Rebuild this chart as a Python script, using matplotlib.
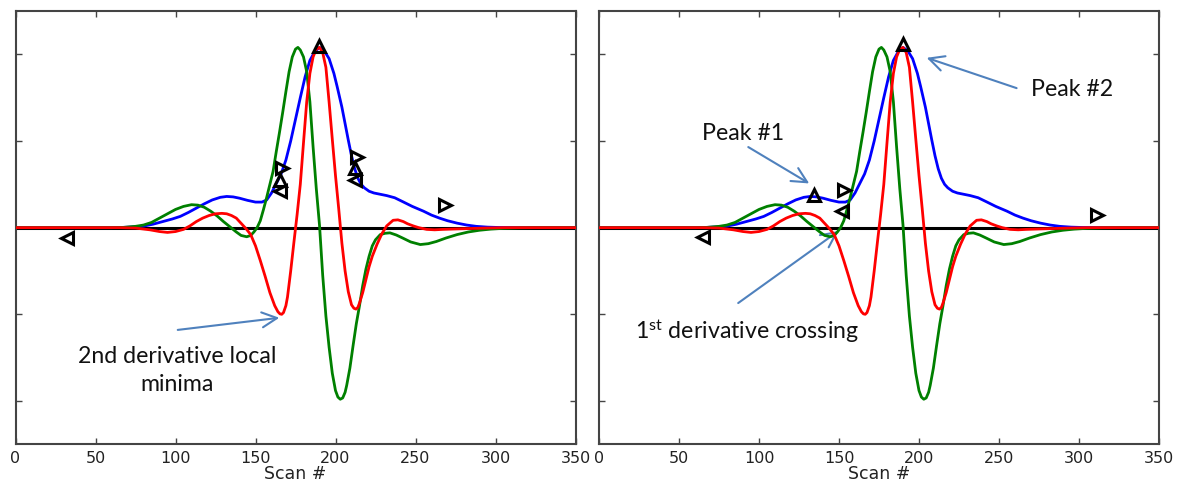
import matplotlib
matplotlib.use("Agg")
import matplotlib.pyplot as plt

# ---- data ----
blue_x = [0, 60, 67, 75, 80, 86, 92, 98, 103, 108, 113, 118, 123, 128, 132, 136, 140, 145, 150, 154,
          157, 160, 163, 166, 169, 172, 175, 178, 181, 184, 187, 190, 193, 196, 199, 201, 204, 206,
          208, 210, 212, 214, 216, 218, 221, 224, 228, 232, 237, 242, 248, 255, 260, 265, 270, 276,
          282, 288, 295, 302, 315, 350]
blue_y = [0, 0, 0.003, 0.01, 0.018, 0.04, 0.07, 0.10, 0.13, 0.175, 0.225, 0.275, 0.32, 0.35, 0.36,
          0.355, 0.34, 0.315, 0.295, 0.295, 0.32, 0.40, 0.51, 0.62, 0.78, 1.00, 1.25, 1.50, 1.74,
          1.93, 2.03, 2.08, 2.04, 1.95, 1.78, 1.63, 1.39, 1.20, 1.01, 0.83, 0.68, 0.57, 0.50, 0.46,
          0.42, 0.40, 0.385, 0.37, 0.345, 0.30, 0.245, 0.19, 0.145, 0.11, 0.08, 0.052, 0.03, 0.015,
          0.006, 0.002, 0, 0]

green_x = [0, 60, 67, 75, 80, 85, 90, 95, 100, 105, 110, 114, 118, 122, 126, 130, 134, 138, 141,
           144.5, 147, 149, 151, 153, 155, 157, 159, 161, 163, 165, 167, 169, 171, 173, 175, 176.5,
           178, 180, 182, 184, 186, 188, 190, 192, 194, 196, 198, 200, 201.5, 203, 204.5, 206, 207,
           209, 211, 213, 215, 217, 219, 221, 223, 225, 228, 231, 234, 238, 242, 247, 253, 258, 263,
           269, 276, 283, 290, 297, 305, 315, 325, 350]
green_y = [0, 0, 0.002, 0.015, 0.03, 0.06, 0.11, 0.16, 0.21, 0.245, 0.265, 0.26, 0.235, 0.19, 0.135,
           0.07, 0.01, -0.05, -0.09, -0.105, -0.09, -0.05, 0.0, 0.08, 0.21, 0.35, 0.50, 0.65, 0.88,
           1.10, 1.33, 1.57, 1.80, 1.97, 2.06, 2.08, 2.05, 1.97, 1.80, 1.45, 0.93, 0.45, 0.03, -0.55,
           -1.02, -1.38, -1.68, -1.88, -1.955, -1.98, -1.965, -1.90, -1.82, -1.62, -1.36, -1.11,
           -0.90, -0.67, -0.48, -0.33, -0.21, -0.14, -0.08, -0.065, -0.06, -0.085, -0.12, -0.165,
           -0.195, -0.185, -0.16, -0.12, -0.08, -0.05, -0.03, -0.017, -0.008, -0.002, 0, 0]

red_x = [0, 65, 75, 84, 90, 95, 100, 105, 109, 113, 117, 121, 125, 129, 132, 135, 138, 141, 144, 147,
         150, 153, 156, 159, 162, 164, 165.3, 166.4, 167.5, 169, 170, 172, 174, 176, 178, 180, 182,
         184, 186, 188, 190, 192, 194, 196, 198, 200, 202, 204, 206, 208, 210, 211.5, 212.8, 214, 215,
         217, 219, 221, 223, 226, 229, 232, 236, 239, 242.4, 245, 248.6, 252, 257, 262, 267, 275,
         284, 295, 305, 350]
red_y = [0, 0, -0.005, -0.025, -0.045, -0.055, -0.045, -0.02, 0.02, 0.07, 0.11, 0.14, 0.16, 0.165,
         0.16, 0.14, 0.11, 0.05, -0.01, -0.08, -0.21, -0.38, -0.56, -0.75, -0.90, -0.97, -0.995, -1.0,
         -0.98, -0.90, -0.80, -0.50, -0.17, 0.15, 0.50, 0.98, 1.45, 1.78, 1.97, 2.06, 2.08, 2.02, 1.85,
         1.45, 1.02, 0.60, 0.22, -0.18, -0.50, -0.74, -0.89, -0.93, -0.94, -0.92, -0.87, -0.75, -0.60,
         -0.45, -0.33, -0.19, -0.07, 0.02, 0.085, 0.09, 0.07, 0.045, 0.02, 0.0, -0.02, -0.025, -0.02,
         -0.015, -0.01, -0.004, 0, 0]

zero_x = [0, 350]
zero_y = [0, 0]

# markers: left panel
left_markers = [('<', 32, -0.115), ('>', 166.4, 0.69), ('^', 165.3, 0.55), ('<', 165.6, 0.42),
                ('^', 189.7, 2.10), ('>', 213.2, 0.82), ('^', 212.4, 0.69), ('<', 212.2, 0.55),
                ('>', 268.4, 0.26)]
# markers: right panel
right_markers = [('<', 65, -0.107), ('^', 134.4, 0.38), ('>', 153, 0.43), ('<', 151.7, 0.19),
                 ('^', 189.8, 2.12), ('>', 311, 0.15)]

x_ticks = [0, 50, 100, 150, 200, 250, 300, 350]
y_ticks = [-2, -1, 0, 1, 2]
x_label = "Scan #"

plt.rcParams['mathtext.fontset'] = 'custom'
plt.rcParams['mathtext.rm'] = 'Lato'
plt.rcParams['mathtext.it'] = 'Lato'

fig = plt.figure(figsize=(11.77, 4.82), dpi=100)
ax1 = fig.add_axes([15.5 / 1177, 1 - 444.3 / 482, 560 / 1177, 433.3 / 482])
ax2 = fig.add_axes([599 / 1177, 1 - 444.3 / 482, 560 / 1177, 433.3 / 482])

arrow_color = '#4f81bd'
ann_font = dict(family='Lato', fontsize=16.7, color='#111111')


def draw(ax, markers):
    ax.plot(zero_x, zero_y, color='black', lw=2.2, zorder=2)
    ax.plot(blue_x, blue_y, color='#0000ff', lw=2.0, zorder=3)
    ax.plot(green_x, green_y, color='#008000', lw=2.0, zorder=4)
    ax.plot(red_x, red_y, color='#ff0000', lw=2.0, zorder=5)
    for m, mx, my in markers:
        ax.plot([mx], [my], marker=m, ms=9, mew=2.2, mfc='none', mec='black',
                linestyle='none', zorder=6)
    ax.set_xlim(0, 350)
    ax.set_ylim(-2.5, 2.5)
    ax.set_xticks(x_ticks)
    ax.set_yticks(y_ticks)
    ax.set_yticklabels([])
    ax.tick_params(direction='in', top=True, right=True, length=4, width=1,
                   colors='#444444', labelcolor='#222222', labelsize=11.5, pad=5)
    for s in ax.spines.values():
        s.set_color('#444444')
        s.set_linewidth(1.5)
    ax.set_xlabel(x_label, fontsize=12.5, labelpad=-1, color='#222222')


draw(ax1, left_markers)
draw(ax2, right_markers)

arrow = dict(arrowstyle='->,head_length=0.9,head_width=0.45', color=arrow_color, lw=1.5,
             shrinkA=0, shrinkB=0, mutation_scale=12)

# left panel annotation
ax1.annotate('', xy=(164.9, -1.04), xytext=(101.4, -1.18), arrowprops=arrow)
ax1.text(101, -1.65, "2nd derivative local\nminima", ha='center', va='center',
         linespacing=1.42, **ann_font)

# right panel annotations
ax2.annotate('', xy=(131.4, 0.51), xytext=(93.3, 0.93), arrowprops=arrow)
ax2.text(90.2, 1.09, "Peak #1", ha='center', va='center', **ann_font)
ax2.annotate('', xy=(204.8, 1.96), xytext=(261, 1.61), arrowprops=arrow)
ax2.text(295.4, 1.59, "Peak #2", ha='center', va='center', **ann_font)
ax2.annotate('', xy=(149.6, -0.04), xytext=(87, -0.87), arrowprops=arrow)
ax2.text(92.8, -1.19, r"1$^{\mathrm{st}}$ derivative crossing", ha='center', va='center',
         **ann_font)

fig.savefig("out.png", dpi=100)
